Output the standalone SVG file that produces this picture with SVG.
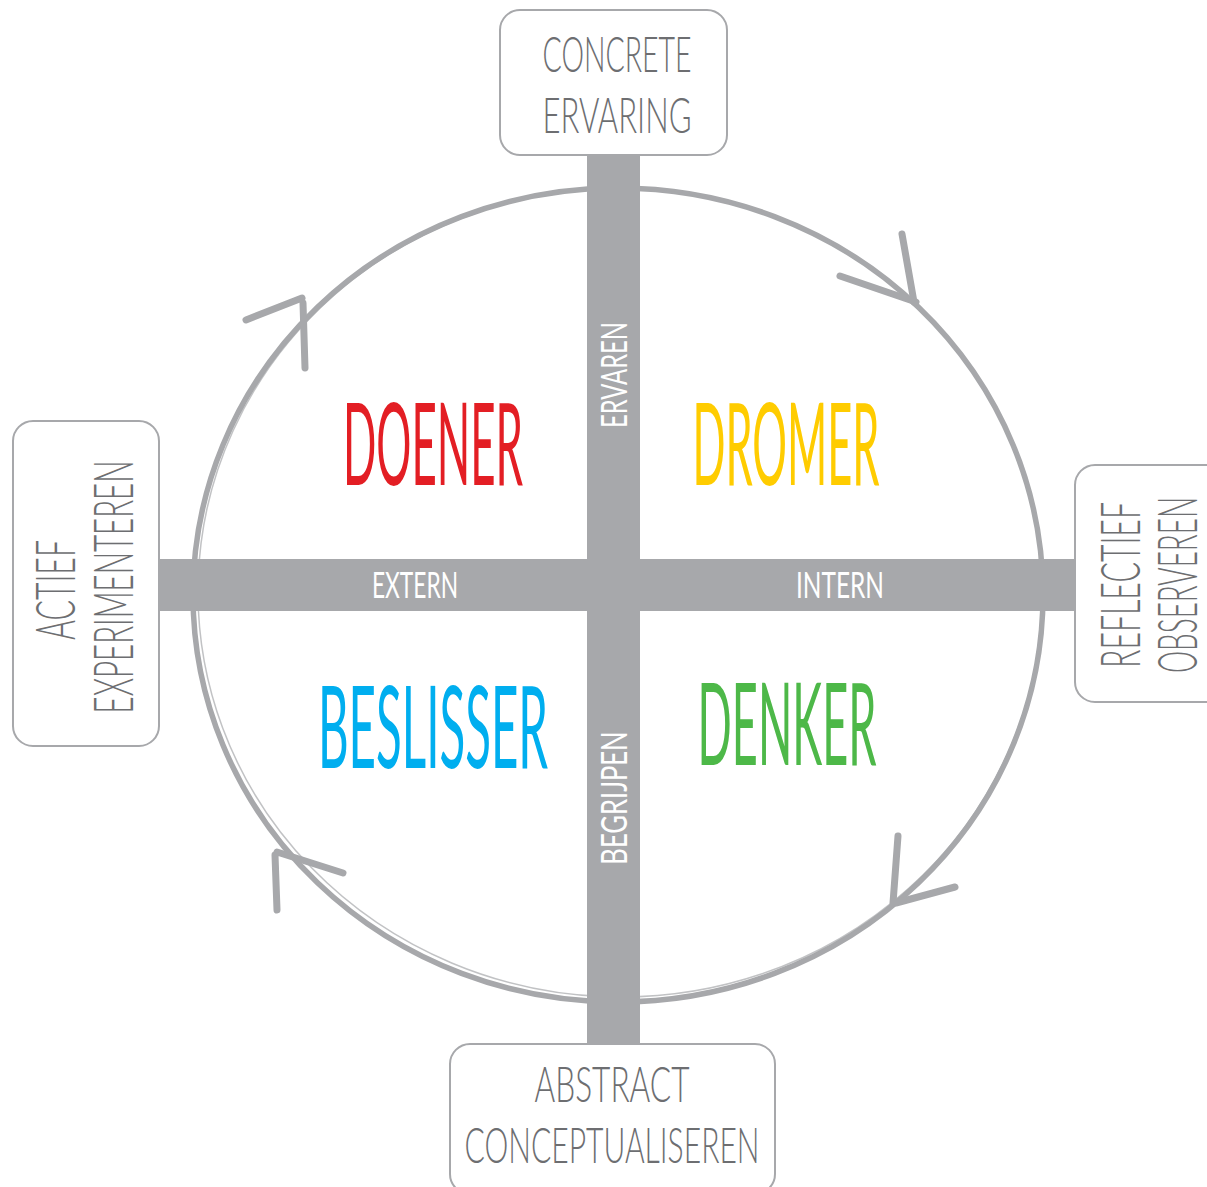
<svg xmlns="http://www.w3.org/2000/svg" width="1207" height="1187" viewBox="0 0 1207 1187">
<style>
.box{fill:#fff;stroke:#a7a8ab;stroke-width:2}
.bar{fill:#a7a8ab}
.bt{font-family:Lato,"Liberation Sans",sans-serif;font-weight:300;font-size:56px;fill:#6d6e71;text-anchor:middle}
.bt2{font-family:Lato,"Liberation Sans",sans-serif;font-weight:300;font-size:50px;fill:#6d6e71;text-anchor:middle}
.wt{font-family:Lato,"Liberation Sans",sans-serif;font-weight:400;font-size:36px;fill:#fff;text-anchor:middle}
.ct{font-family:Lato,"Liberation Sans",sans-serif;font-weight:400;font-size:114px;text-anchor:middle}
.ring{fill:none;stroke:#a7a8ab;stroke-width:5.5}
.ring2{fill:none;stroke:#a7a8ab;stroke-width:1.5;opacity:0.7}
.ah{fill:none;stroke:#a7a8ab;stroke-width:7;stroke-linecap:round}
</style>
<rect width="1207" height="1187" fill="#fff"/>
<g id="connectors">
<ellipse class="ring" cx="618" cy="595" rx="425" ry="407"/>
<ellipse class="ring2" cx="620" cy="593" rx="422" ry="404" transform="rotate(2 620 593)"/>
<path class="ah" d="M902,234 L914,302 M840,276 L916,302"/>
<path class="ah" d="M898,836 L893,903 M955,887 L896,903"/>
<path class="ah" d="M277,910 L275,855 M343,873 L277,852"/>
<path class="ah" d="M246,320 L302,298 M305,368 L303,303"/>
<rect class="bar" x="587" y="155" width="53" height="889"/>
<rect class="bar" x="159" y="559" width="916" height="52"/>
<text class="wt" transform="translate(627,375) rotate(-90) scale(0.62,1)" x="0" y="0" textLength="171" lengthAdjust="spacingAndGlyphs">ERVAREN</text>
<text class="wt" transform="translate(627,798) rotate(-90) scale(0.62,1)" x="0" y="0" textLength="215" lengthAdjust="spacingAndGlyphs">BEGRIJPEN</text>
<text class="wt" transform="translate(415,598) scale(0.62,1)" x="0" y="0" textLength="139" lengthAdjust="spacingAndGlyphs">EXTERN</text>
<text class="wt" transform="translate(840,598) scale(0.62,1)" x="0" y="0" textLength="142" lengthAdjust="spacingAndGlyphs">INTERN</text>
</g>
<g id="top">
<rect class="box" x="500" y="10" width="227" height="145" rx="20"/>
<text class="bt2" transform="translate(617,72) scale(0.5,1)"><tspan x="0" y="0" textLength="298" lengthAdjust="spacingAndGlyphs">CONCRETE</tspan><tspan x="0" y="61" textLength="298" lengthAdjust="spacingAndGlyphs">ERVARING</tspan></text>
</g>
<g id="bottom">
<rect class="box" x="450" y="1044" width="325" height="150" rx="20"/>
<text class="bt2" transform="translate(612,1102) scale(0.5,1)"><tspan x="0" y="0" textLength="310" lengthAdjust="spacingAndGlyphs">ABSTRACT</tspan><tspan x="0" y="61" textLength="590" lengthAdjust="spacingAndGlyphs">CONCEPTUALISEREN</tspan></text>
</g>
<g id="left">
<rect class="box" x="13" y="421" width="146" height="325" rx="20"/>
<text class="bt" transform="translate(75,590) rotate(-90) scale(0.5,1)" x="0" y="0" textLength="200" lengthAdjust="spacingAndGlyphs">ACTIEF</text>
<text class="bt" transform="translate(133,587) rotate(-90) scale(0.5,1)" x="0" y="0" textLength="506" lengthAdjust="spacingAndGlyphs">EXPERIMENTEREN</text>
</g>
<g id="right">
<rect class="box" x="1075" y="465" width="150" height="237" rx="20"/>
<text class="bt" transform="translate(1140,585) rotate(-90) scale(0.5,1)" x="0" y="0" textLength="332" lengthAdjust="spacingAndGlyphs">REFLECTIEF</text>
<text class="bt" transform="translate(1197,585) rotate(-90) scale(0.5,1)" x="0" y="0" textLength="352" lengthAdjust="spacingAndGlyphs">OBSERVEREN</text>
</g>
<g id="doener"><text class="ct" transform="translate(433,485) scale(0.42,1)" x="0" y="0" fill="#e31e24" textLength="429" lengthAdjust="spacingAndGlyphs">DOENER</text></g>
<g id="dromer"><text class="ct" transform="translate(786,485) scale(0.42,1)" x="0" y="0" fill="#ffcc00" textLength="445" lengthAdjust="spacingAndGlyphs">DROMER</text></g>
<g id="beslisser"><text class="ct" transform="translate(433,768) scale(0.42,1)" x="0" y="0" fill="#00aeef" textLength="548" lengthAdjust="spacingAndGlyphs">BESLISSER</text></g>
<g id="denker"><text class="ct" transform="translate(787,765) scale(0.42,1)" x="0" y="0" fill="#4db848" textLength="426" lengthAdjust="spacingAndGlyphs">DENKER</text></g>
</svg>
